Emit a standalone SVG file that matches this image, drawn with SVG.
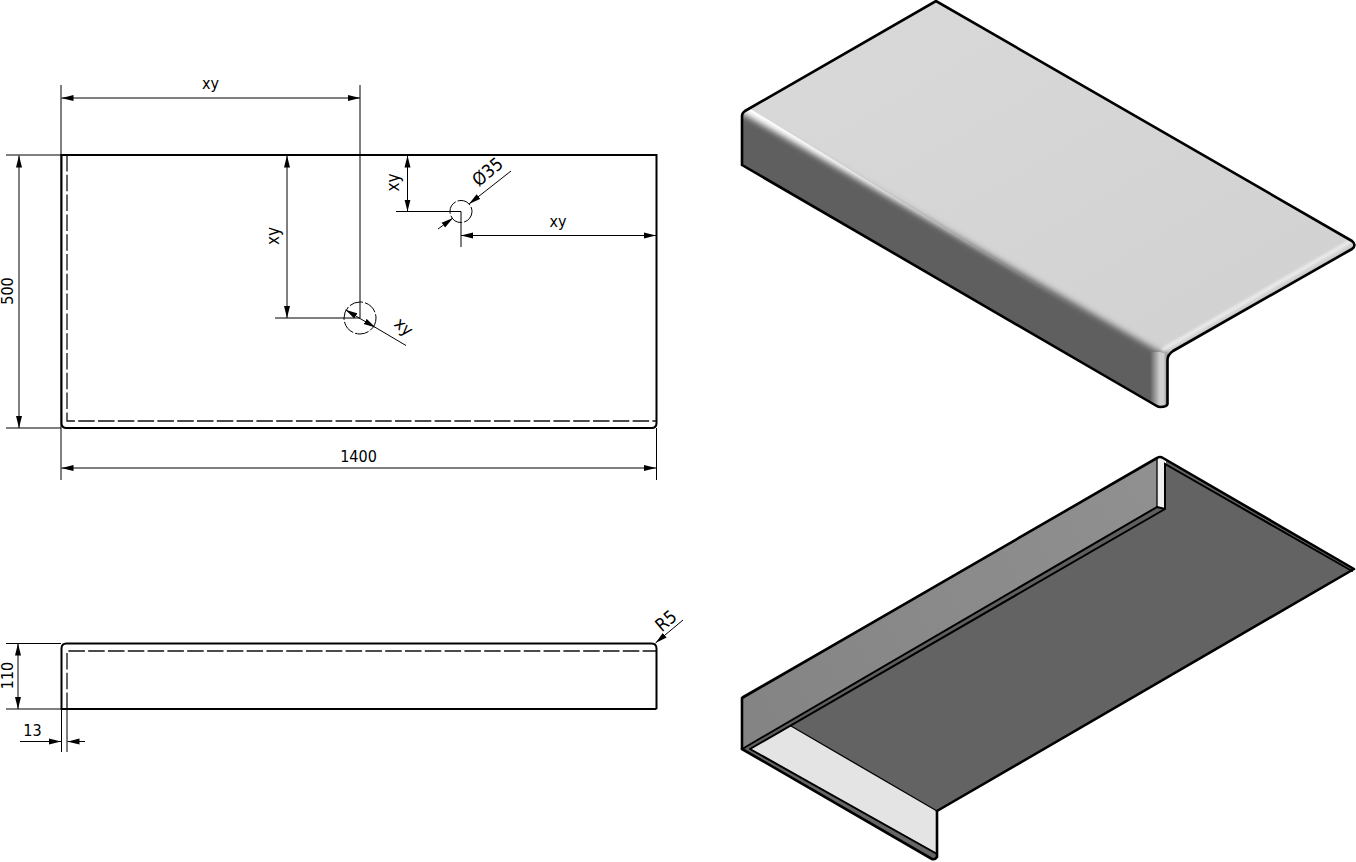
<svg xmlns="http://www.w3.org/2000/svg" width="1356" height="862" viewBox="0 0 1356 862">
<style>
text{font-family:"DejaVu Sans Condensed","DejaVu Sans",sans-serif;font-stretch:condensed;font-size:16px;fill:#000;text-anchor:middle}
.big{font-size:17px}
.o{fill:none;stroke:#000;stroke-width:2}
.h{fill:none;stroke:#111;stroke-width:1.3;stroke-dasharray:16.5 3.3}
.d{fill:none;stroke:#000;stroke-width:1}
.c{fill:none;stroke:#000;stroke-width:1;stroke-dasharray:14 2}
.ar{fill:none;stroke:#000;stroke-width:1;marker-start:url(#a);marker-end:url(#a)}
.ae{fill:none;stroke:#000;stroke-width:1;marker-end:url(#a)}
.l{fill:none;stroke:#000;stroke-width:2.6;stroke-linejoin:round;stroke-linecap:round}
.t{fill:none;stroke:#000;stroke-width:2;stroke-linecap:round}
</style>
<defs>
<marker id="a" viewBox="0 0 12 7" refX="12" refY="3.500" markerWidth="12" markerHeight="7" markerUnits="userSpaceOnUse" orient="auto-start-reverse"><path d="M0 .5L12 3.500L0 6.500Z" fill="#000"/></marker>
<linearGradient id="g3" gradientUnits="userSpaceOnUse" x1="1150" y1="0" x2="1168" y2="0"><stop offset="0" stop-color="#5f5f5f"/><stop offset=".55" stop-color="#cfcfcf"/><stop offset=".75" stop-color="#cfcfcf"/><stop offset="1" stop-color="#808080"/></linearGradient>
<linearGradient id="g4" gradientUnits="userSpaceOnUse" x1="936" y1="0" x2="1150" y2="370"><stop offset="0" stop-color="#d8d8d8"/><stop offset="1" stop-color="#d2d2d2"/></linearGradient>
<linearGradient id="g5" gradientUnits="userSpaceOnUse" x1="742" y1="720" x2="1157" y2="480"><stop offset="0" stop-color="#848484"/><stop offset="1" stop-color="#909090"/></linearGradient>
<filter id="b3" x="-5%" y="-5%" width="110%" height="110%"><feGaussianBlur stdDeviation="3"/></filter>
<filter id="b1" filterUnits="userSpaceOnUse" x="1100" y="200" width="280" height="200"><feGaussianBlur stdDeviation="1.400"/></filter>
<clipPath id="sil"><path d="M742 165V116Q742 113 745 111L936 1L1352 241Q1357 245 1352 249L1173 351Q1167.500 355 1167.500 360V404Q1167 407 1160 407Q1158 407 1155 405Z"/></clipPath>
</defs>

<g id="top-view">
<path class="o" d="M61.500 155H656.500V423Q656.500 428 651.500 428H66.500Q61.500 428 61.500 423V155Z"/>
<path class="h" d="M67 155V421H656"/>
<circle class="c" cx="360" cy="318" r="16"/>
<circle class="c" cx="461" cy="211.500" r="11"/>
</g>

<g id="side-view">
<path class="o" d="M656.500 709V648.500Q656.500 643.500 651.500 643.500H66.500Q61.500 643.500 61.500 648.500V709H656.500"/>
<path class="h" d="M67 709V651H656"/>
</g>

<g id="connectors">
<path class="d" d="M61 85V480M656.500 428V480M360 85V318M6 155H61M6 428H61M275 318H360M396 211.500H461M461 211.500V247M6 643.500H61M6 709H61M61.500 709V752M67 709V752"/>
<path class="ar" d="M61.500 98H360"/>
<path class="ar" d="M19 155.500V428"/>
<path class="ar" d="M61.500 468H656"/>
<path class="ar" d="M287 155.500V318"/>
<path class="ar" d="M407.500 155.500V211.500"/>
<path class="ar" d="M461 235.500H656"/>
<path class="ar" d="M18 643.500V709"/>
<path class="ae" d="M20 741.500H61"/>
<path class="ae" d="M85 741.500H67.500"/>
<path class="ae" d="M360 318.500L345.500 309.800"/>
<path class="ae" d="M360 318.500L375.500 327.500"/>
<path class="d" d="M375 327.200L406 345.500"/>
<path class="ae" d="M511 171L469 204"/>
<path class="ae" d="M438 229L453 218"/>
<path class="ae" d="M683 620L655.500 643"/>
</g>

<g id="labels">
<text x="210.500" y="89">xy</text>
<text x="358.500" y="462">1400</text>
<text x="558" y="227">xy</text>
<text x="32.500" y="736">13</text>
<text transform="translate(13 291) rotate(-90)">500</text>
<text transform="translate(13 675.500) rotate(-90)">110</text>
<text class="big" transform="translate(279 236) rotate(-90)">xy</text>
<text class="big" transform="translate(399 182.500) rotate(-90)">xy</text>
<text class="big" transform="translate(400 331) rotate(42)">xy</text>
<text transform="translate(491.500 176.500) rotate(-40)" style="font-size:18px">Ø35</text>
<text class="big" transform="translate(670 625.500) rotate(-40)" style="font-size:18px">R5</text>
</g>

<g id="iso-top">
<g clip-path="url(#sil)">
<path fill="url(#g4)" d="M736 100L936 -5L1360 240V260L1168 370L1160 360Z"/>
<path fill="#5f5f5f" filter="url(#b3)" d="M742 113L1160 352L1168 354V430H1100L742 220L700 120Z"/>
<path fill="none" stroke="#f2f2f2" stroke-width="3" filter="url(#b1)" d="M1162 350L1351 241"/>
<path fill="none" stroke="#666" stroke-width="3" filter="url(#b1)" d="M1168 356L1353 250"/>
<path fill="url(#g3)" d="M1150 352L1160 352L1168 354V410H1150Z"/>
</g>
<path class="l" d="M742 165V116Q742 113 745 111L936 1L1352 241Q1357 245 1352 249L1173 351Q1167.500 355 1167.500 360V404Q1167 407 1160 407Q1158 407 1155 405L742 165"/>
</g>

<g id="iso-bottom">
<path fill="#636363" d="M1166 464L1352 571L937 811L791 726Z"/>
<path fill="url(#g5)" d="M742 696L1157 459V507L742 748Z"/>
<path fill="#5f5f5f" d="M742 749L1157 507L1165 509L790 726L750 749Z"/>
<path fill="#f0f0f0" d="M1157 459H1165V508L1157 507Z"/>
<path fill="#e4e4e4" d="M750 749L791 726L937 811V853Z"/>
<path fill="#666" d="M742 749L750 749L937 853V857L934 860Z"/>
<path fill="#666" d="M1160 456L1354 569L1351 571L1166 464V459Z"/>
<path class="t" d="M742 749L1157 507M750 749L1165 509M750 749L937 854M1157 507L1165 509M1165 509V464L1352 571"/>
<path class="t" style="stroke-width:1.300" d="M1157 507V459M791 726L937 811"/>
<path class="l" d="M742 749V698L1157 458Q1160 456 1163 458L1354 569L937 811"/>
<path class="l" d="M742 749L932 859Q935 860 937 857V811"/>
</g>
</svg>
